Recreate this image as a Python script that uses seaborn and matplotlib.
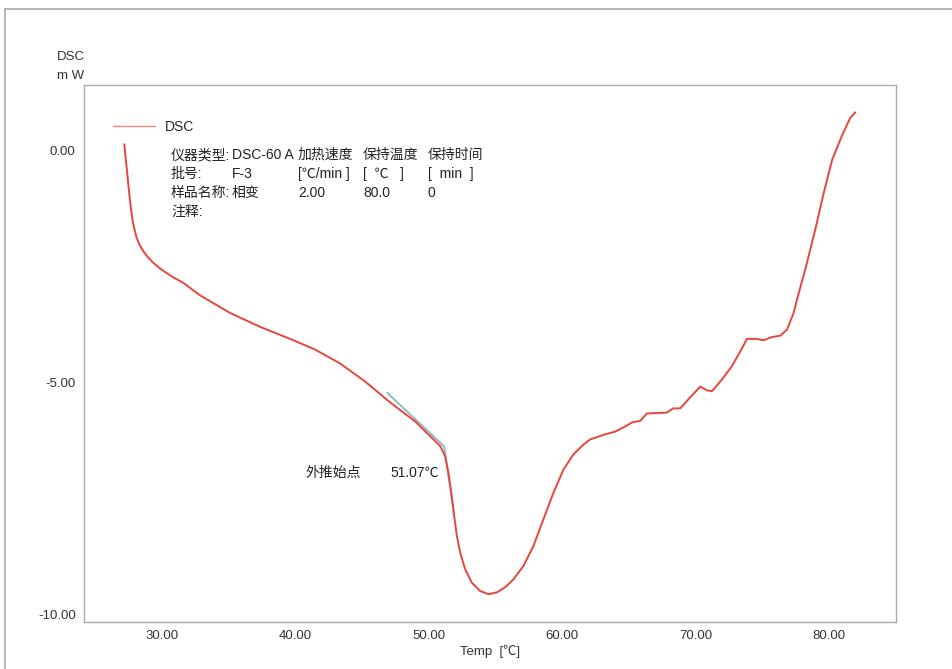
import matplotlib
matplotlib.use("Agg")
import matplotlib.pyplot as plt
from matplotlib.lines import Line2D
import seaborn as sns
import pandas as pd

# ---- data ----
temp = [27.17, 27.25, 27.35, 27.45, 27.55, 27.67, 27.80, 27.95, 28.10, 28.33,
        28.60, 28.95, 29.35, 29.85, 30.35, 30.95, 31.59, 32.85, 35.1, 37.34,
        39.6, 41.47, 43.34, 45.22, 47.09, 48.96, 50.09, 50.84, 51.21, 51.46,
        51.71, 51.89, 52.09, 52.34, 52.71, 53.21, 53.84, 54.46, 55.09, 55.71,
        56.33, 57.08, 57.83, 58.58, 59.33, 60.08, 60.83, 61.58, 62.08, 63.21,
        63.96, 64.71, 65.23, 65.83, 66.33, 67.83, 68.3, 68.83, 69.58, 70.33,
        70.83, 71.2, 71.95, 72.7, 73.33, 73.83, 74.57, 75.07, 75.7, 76.33,
        76.83, 77.33, 77.58, 78.2, 78.95, 79.55, 80.22, 80.97, 81.57, 81.95]
dsc = [0.14, -0.10, -0.37, -0.66, -0.95, -1.25, -1.52, -1.72, -1.88, -2.04,
       -2.17, -2.30, -2.42, -2.54, -2.64, -2.75, -2.85, -3.12, -3.50, -3.80,
       -4.06, -4.29, -4.59, -4.98, -5.43, -5.84, -6.16, -6.37, -6.59, -6.95,
       -7.45, -7.88, -8.31, -8.67, -9.03, -9.32, -9.50, -9.57, -9.53, -9.42,
       -9.25, -8.96, -8.53, -7.95, -7.38, -6.88, -6.55, -6.34, -6.23, -6.12,
       -6.06, -5.95, -5.86, -5.83, -5.67, -5.65, -5.56, -5.56, -5.32, -5.09,
       -5.17, -5.19, -4.94, -4.65, -4.33, -4.06, -4.06, -4.09, -4.02, -3.99,
       -3.86, -3.50, -3.21, -2.56, -1.70, -0.95, -0.19, 0.34, 0.71, 0.83]

tangent_x = [46.86, 51.14, 51.89]
tangent_y = [-5.22, -6.38, -7.88]

x_ticks_major = [30, 40, 50, 60, 70, 80]
x_tick_labels = ["30.00", "40.00", "50.00", "60.00", "70.00", "80.00"]
y_ticks_major = [0, -5, -10]
y_tick_labels = ["0.00", "-5.00", "-10.00"]

info_rows = [
    ["仪器类型:", "DSC-60 A", "加热速度", "保持温度", "保持时间"],
    ["批号:", "F-3", "[℃/min ]", "[  ℃   ]", "[  min  ]"],
    ["样品名称:", "相变", "2.00", "80.0", "0"],
    ["注释:", "", "", "", ""],
]
onset_label = "外推始点"
onset_value = "51.07℃"

# ---- figure ----
sns.set_style("white")
plt.rcParams["font.family"] = ["Liberation Sans", "Noto Sans CJK SC", "DejaVu Sans"]
W, H = 952, 669
fig = plt.figure(figsize=(W / 100, H / 100), dpi=100)
L, R, T, B = 84, 896, 85, 622
ax = fig.add_axes([L / W, 1 - B / H, (R - L) / W, (B - T) / H])

df = pd.DataFrame({"Temp": temp, "DSC": dsc})
sns.lineplot(data=df, x="Temp", y="DSC", ax=ax, color="#e8453c", lw=1.4,
             sort=False, label="DSC")
tdf = pd.DataFrame({"x": tangent_x, "y": tangent_y})
sns.lineplot(data=tdf, x="x", y="y", ax=ax, color="#8cbcc6", lw=1.4,
             sort=False, legend=False, zorder=1)

ax.set_xlim(24.15, 85.0)
ax.set_ylim(-10.17, 1.42)
ax.set_xticks(x_ticks_major)
ax.set_xticklabels(x_tick_labels)
ax.set_xticks([v for v in range(26, 85, 2)], minor=True)
ax.set_yticks(y_ticks_major)
ax.set_yticklabels(y_tick_labels)
ax.set_yticks([v for v in range(-10, 2)], minor=True)
ax.tick_params(axis="both", which="both", direction="in", color="#999999",
               labelsize=9.5, labelcolor="#333333", width=0.8)
ax.tick_params(axis="both", which="major", length=5, pad=6)
ax.tick_params(axis="both", which="minor", length=4)
ax.set_xlabel("")
ax.set_ylabel("")
for s in ax.spines.values():
    s.set_color("#aaaaaa")
    s.set_linewidth(1.0)

leg = ax.legend(loc="center left", bbox_to_anchor=(0.036, 0.922), frameon=False,
                borderaxespad=0, borderpad=0, handlelength=3.0, handletextpad=0.7,
                fontsize=10)
for h in leg.get_lines():
    h.set_linewidth(1.0)
    h.set_color("#ee8880")

def ftxt(x, y, s, **kw):
    kw.setdefault("fontsize", 10)
    kw.setdefault("color", "#222222")
    fig.text(x / W, 1 - y / H, s, va="center", **kw)

cols = [171, 232, 298, 363, 428]
rows_y = [155, 174, 193, 212]
for r, row in enumerate(info_rows):
    for c, s in enumerate(row):
        if s:
            ftxt(cols[c], rows_y[r], s)

ftxt(305, 473, onset_label)
ftxt(390, 473, onset_value)

ftxt(57, 57, "DSC", fontsize=9.5, color="#333333")
ftxt(57, 76, "m W", fontsize=9.5, color="#333333")
ftxt(490, 651, "Temp  [℃]", fontsize=9.5, color="#333333", ha="center")

# outer frame (top and left)
fig.add_artist(Line2D([5 / W, 1.0], [1 - 9 / H, 1 - 9 / H], color="#aaaaaa", lw=1.2))
fig.add_artist(Line2D([5 / W, 5 / W], [0, 1 - 9 / H], color="#aaaaaa", lw=1.2))

fig.savefig("out.png", dpi=100, facecolor="white")
